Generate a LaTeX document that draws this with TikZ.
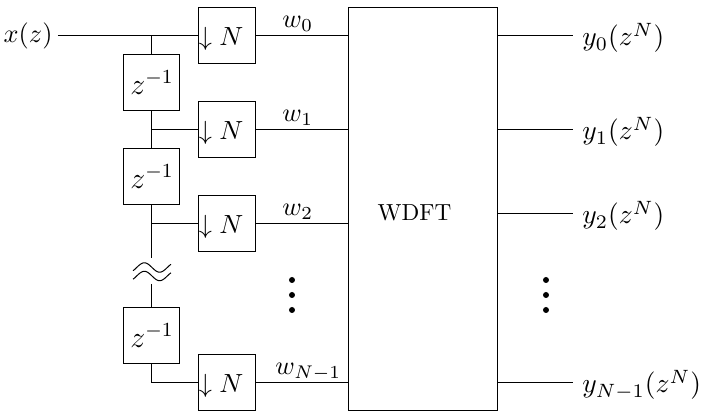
\RequirePackage{fix-cm}
\documentclass[tikz,border=0pt]{standalone}
\begin{document}
\begin{tikzpicture}[x=0.4pt,y=-0.4pt,
  dnbox/.style={draw, minimum width=22.8pt, minimum height=22.4pt, inner sep=0pt,
    text width=22.8pt, align=left, text height=8pt, text depth=0pt,
    font=\fontsize{10.5}{12}\selectfont},
  delay/.style={draw, minimum width=22.4pt, minimum height=22.4pt, inner sep=0pt,
    font=\fontsize{12}{14}\selectfont},
  lbl/.style={inner sep=0pt, font=\fontsize{10.5}{12}\selectfont},
  outlbl/.style={inner sep=0pt, anchor=base west, font=\fontsize{11}{13}\selectfont},
  wave/.style={domain=-0.12:1.12, samples=40, variable=\t}]
\useasboundingbox (0,0) rectangle (703,418);

% downsampler boxes
\node[dnbox] (D0) at (227.5,36) {$\downarrow N$};
\node[dnbox] (D1) at (227.5,130) {$\downarrow N$};
\node[dnbox] (D2) at (227.5,224) {$\downarrow N$};
\node[dnbox] (D3) at (227.5,383) {$\downarrow N$};

% delay boxes
\node[delay] (Z1) at (152,83) {$z^{-1}$};
\node[delay] (Z2) at (152,177) {$z^{-1}$};
\node[delay] (Z3) at (152,336) {$z^{-1}$};

% WDFT block
\node[draw, minimum width=59.6pt, minimum height=161.2pt, inner sep=0pt] (W) at (423.5,209.5) {};
\node[anchor=base, inner sep=0pt, font=\fontsize{10}{12}\selectfont, scale=0.93] (Wl) at (414.5,221) {WDFT};

% input
\node[lbl, anchor=base east] (xz) at (53,42.5) {$x(z)$};
\coordinate (xin) at (58,36);
\coordinate (j0) at (152,36);
\coordinate (j1) at (152,130);
\coordinate (j2) at (152,224);
\coordinate (sqt) at (152,258);
\coordinate (sqb) at (152,284);

\draw (xin) -- (D0.west);
\draw (j0) -- (Z1.north);
\draw (Z1.south) -- (Z2.north);
\draw (j1) -- (D1.west);
\draw (Z2.south) -- (sqt);
\draw (j2) -- (D2.west);
\draw (sqb) -- (Z3.north);
\draw (Z3.south) |- (D3.west);

% squiggle
\draw[wave] plot ({152+30.6*(\t-0.5)}, {267.5-4.7*sin(360*\t)});
\draw[wave] plot ({152+30.6*(\t-0.5)}, {276-4.7*sin(360*\t)});

% downsampler outputs to WDFT
\draw (D0.east) -- (D0.east -| W.west);
\draw (D1.east) -- (D1.east -| W.west);
\draw (D2.east) -- (D2.east -| W.west);
\draw (D3.east) -- (D3.east -| W.west);

\node[lbl, anchor=base west] (w0) at (282,28) {$w_0$};
\node[lbl, anchor=base west] (w1) at (282,122) {$w_1$};
\node[lbl, anchor=base west] (w2) at (282,216) {$w_2$};
\node[lbl, anchor=base west] (wN) at (275,375) {$w_{N-1}$};

% outputs
\coordinate (o0) at (573,36);
\coordinate (o1) at (573,130);
\coordinate (o2) at (573,214);
\coordinate (o3) at (573,383);
\draw (o0 -| W.east) -- (o0);
\draw (o1 -| W.east) -- (o1);
\draw (o2 -| W.east) -- (o2);
\draw (o3 -| W.east) -- (o3);

\node[outlbl] (y0) at (582,46) {$y_0(z^N)$};
\node[outlbl] (y1) at (582,140) {$y_1(z^N)$};
\node[outlbl] (y2) at (582,224) {$y_2(z^N)$};
\node[outlbl] (yN) at (582,393) {$y_{N-1}(z^N)$};

% vertical dots
\foreach \yy in {280,295,310} {
  \fill (292,\yy) circle (1.2pt);
  \fill (546,\yy) circle (1.2pt);
}
\end{tikzpicture}
\end{document}
